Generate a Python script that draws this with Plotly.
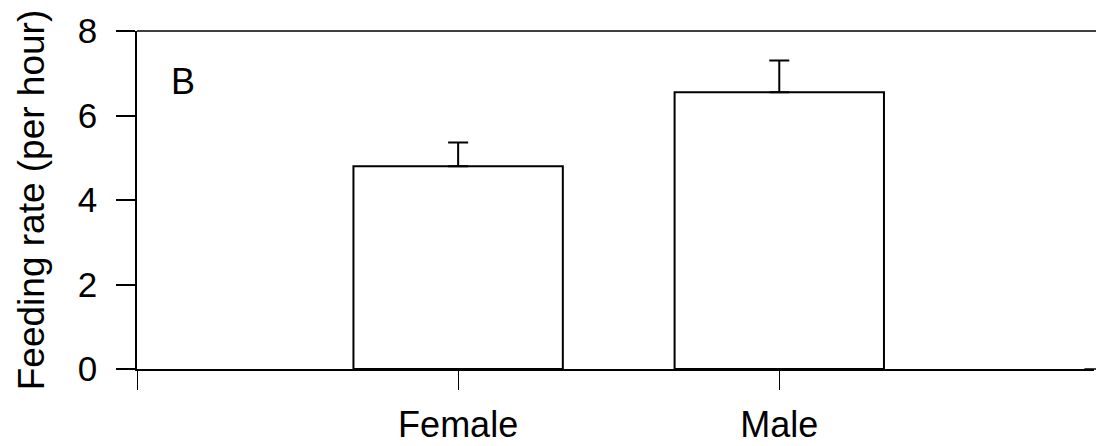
import plotly.graph_objects as go

categories = ["Female", "Male"]
cat_pos = [0, 1]
means = [4.80, 6.55]
errors = [0.56, 0.75]
y_ticks = [0, 2, 4, 6, 8]

FONT = "Liberation Sans, Arial, sans-serif"

fig = go.Figure()
fig.add_trace(go.Bar(
    x=cat_pos, y=means, width=0.652,
    marker=dict(color="white", line=dict(color="black", width=2)),
    error_y=dict(type="data", array=errors, symmetric=False, arrayminus=[0, 0],
                 color="black", thickness=2, width=10),
    showlegend=False,
))

fig.update_layout(
    width=1096, height=446,
    margin=dict(l=137, r=2, t=31, b=77, autoexpand=False),
    paper_bgcolor="white", plot_bgcolor="white",
    font=dict(family=FONT, size=36, color="black"),
    xaxis=dict(
        range=[-1, 1.98],
        tickmode="array", tickvals=[-1, 0, 1], ticktext=["", categories[0], categories[1]],
        ticks="outside", ticklen=19, tickwidth=1, tickcolor="black",
        showline=True, linecolor="black", linewidth=1.5, mirror=False,
        showgrid=False, zeroline=False, automargin=False,
        tickfont=dict(size=36, family=FONT),
        ticklabelstandoff=4,
    ),
    yaxis=dict(
        range=[0, 8],
        tickmode="array", tickvals=y_ticks, ticktext=[str(v) for v in y_ticks],
        ticks="outside", ticklen=19, tickwidth=1.5, tickcolor="black",
        showline=True, linecolor="black", linewidth=1.5,
        showgrid=False, zeroline=False, automargin=False,
        tickfont=dict(size=35, family=FONT),
        ticklabelstandoff=12,
        title=dict(text="Feeding rate (per hour)", font=dict(size=37, family=FONT), standoff=22),
    ),
    shapes=[
        dict(type="line", xref="paper", yref="paper", x0=0, x1=1.01, y0=1, y1=1,
             line=dict(color="black", width=1.5)),
        dict(type="line", xref="paper", yref="paper", x0=0.99, x1=1.01, y0=0, y1=0,
             line=dict(color="black", width=1.5)),
    ],
    annotations=[dict(text="B", x=0.048, y=0.852, xref="paper", yref="paper",
                      xanchor="center", yanchor="middle",
                      showarrow=False, font=dict(size=36, family=FONT))],
)

fig.write_html("out.html")
